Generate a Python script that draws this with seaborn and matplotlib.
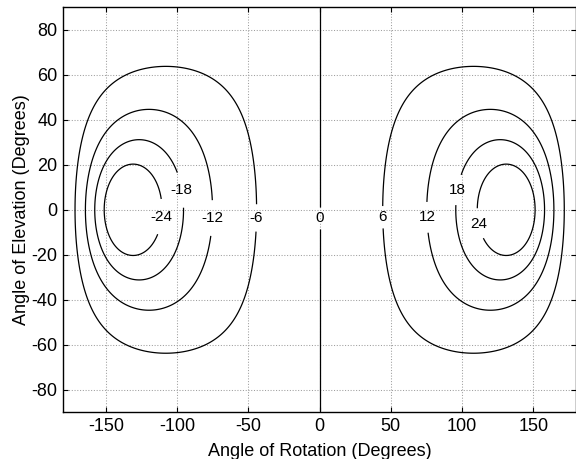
import numpy as np
import matplotlib
matplotlib.use("Agg")
import matplotlib.pyplot as plt
import seaborn as sns

# ---- data ----
rotation_deg = np.arange(-179.5, 180.0, 1.0)     # angle of rotation grid
elevation_deg = np.arange(-89.5, 90.0, 1.0)      # angle of elevation grid
contour_levels = [-24, -18, -12, -6, 0, 6, 12, 18, 24]
# model parameters
pivot_offset = 1.43
angle_gain = 1.6
amplitude = 10.9
label_points = [(-113, -3), (-99, 8.6), (-78, -3.6), (-45, -3.6), (0, -3.6),
                (45, -3.3), (78, -3.3), (99.5, 8.6), (111, -6.2)]
x_ticks = [-150, -100, -50, 0, 50, 100, 150]
y_ticks = [-80, -60, -40, -20, 0, 20, 40, 60, 80]

sns.set_theme(style="ticks")
plt.rcParams['font.family'] = ['Liberation Sans', 'DejaVu Sans']
plt.rcParams['axes.unicode_minus'] = False
plt.rcParams['text.color'] = 'black'
plt.rcParams['axes.labelcolor'] = 'black'

R, E = np.meshgrid(np.radians(rotation_deg), np.radians(elevation_deg))
vx = np.cos(E) * np.cos(R)
vy = np.cos(E) * np.sin(R)
theta = np.arctan2(vy, vx + pivot_offset)
field = amplitude * np.tan(angle_gain * theta)

fig = plt.figure(figsize=(5.76, 4.59), dpi=100)
ax = fig.add_axes([63.3 / 576, (459 - 412.3) / 459, 1 - 63.3 / 576, 405 / 459])

cs = ax.contour(rotation_deg, elevation_deg, field, levels=contour_levels,
                colors='black', linewidths=0.9, linestyles='solid')
ax.clabel(cs, inline=True, fontsize=11, fmt='%d', manual=label_points,
          inline_spacing=7)
for t in cs.labelTexts:
    t.set_rotation(0)
    t.set_color('black')

ax.set_xlim(-180, 180)
ax.set_ylim(-90, 90)
ax.set_xticks(x_ticks)
ax.set_yticks(y_ticks)
ax.grid(True, linestyle=':', color='0.62', linewidth=0.75)
ax.tick_params(direction='in', length=3.5, width=0.8, top=True, right=True,
               labelsize=13, pad=4, colors='black')
for s in ax.spines.values():
    s.set_linewidth(1.0)
    s.set_color('black')
ax.set_xlabel('Angle of Rotation (Degrees)', fontsize=13, labelpad=6)
ax.set_ylabel('Angle of Elevation (Degrees)', fontsize=13, labelpad=1)

fig.savefig('out.png', dpi=100)
